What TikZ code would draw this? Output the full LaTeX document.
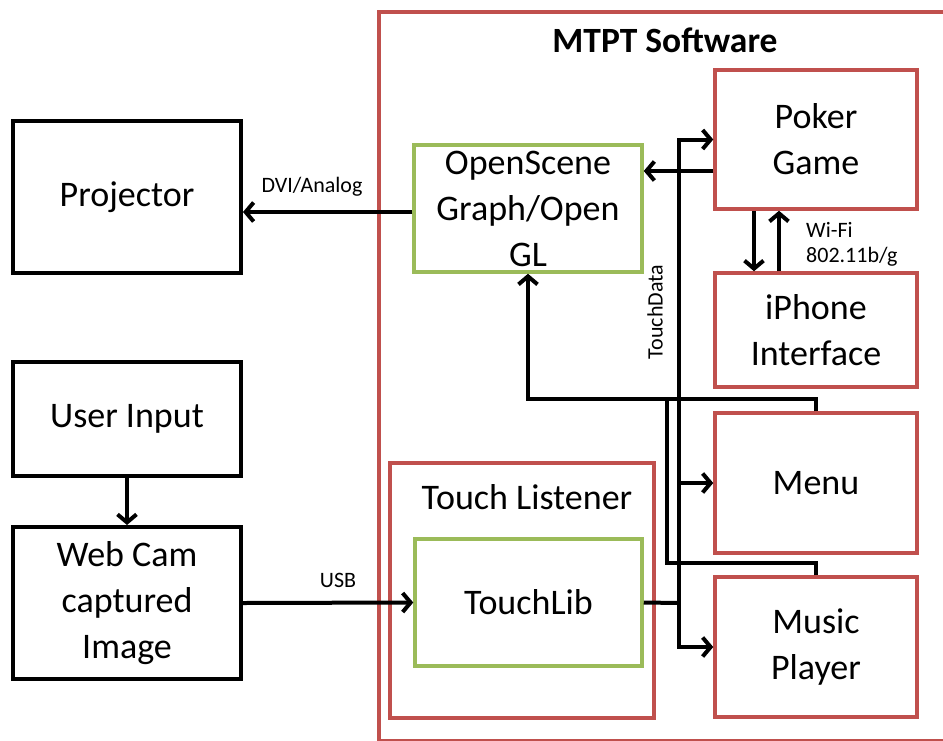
\documentclass[tikz,border=0pt]{standalone}
\usepackage{fontspec}
\setmainfont{Carlito}
\usetikzlibrary{arrows.meta}
\definecolor{boxred}{HTML}{C0504D}
\definecolor{boxgreen}{HTML}{9BBB59}
\begin{document}
\begin{tikzpicture}[x=1pt,y=-1pt,
  every node/.style={inner sep=0pt, align=center},
  big/.style={font=\fontsize{36}{46}\selectfont},
  blk/.style={big, draw=black, line width=4pt},
  redbox/.style={big, draw=boxred, line width=3.5pt},
  grnbox/.style={big, draw=boxgreen, line width=3.5pt},
  conn/.style={line width=4pt, draw=black},
  arr/.style={conn, -{Straight Barb[length=8pt,width=19pt]}},
  lbl/.style={font=\fontsize{22}{25}\selectfont}
]
\useasboundingbox (0,0) rectangle (943,740);
\clip (0,0) rectangle (943,740);

% outer software box
\node (mtpt) [draw=boxred, line width=3.5pt, minimum width=640pt, minimum height=729pt, anchor=north west] at (377,10) {};
\node (title) at (665,40) {\fontsize{35.5}{40}\selectfont\bfseries MTPT Software};

% left column
\node (proj) [blk, minimum width=228pt, minimum height=152pt] at (127,197) {Projector};
\node (user) [blk, minimum width=228pt, minimum height=114pt] at (127,419) {User Input};
\node (cam)  [blk, minimum width=228pt, minimum height=152pt] at (127,603) {Web Cam\\captured\\Image};

% middle
\node (osg) [grnbox, minimum width=228pt, minimum height=127pt] at (528,208.5) {OpenScene\\Graph/Open\\GL};
\node (listener) [draw=boxred, line width=3.5pt, minimum width=264pt, minimum height=255pt] at (522,590.5) {};
\node (lbltitle) [big] at (527,497) {Touch Listener};
\node (tlib) [grnbox, minimum width=227pt, minimum height=127pt] at (528.5,602.5) {TouchLib};

% right column
\node (poker)  [redbox, minimum width=202pt, minimum height=139pt] at (816,139.5) {Poker\\Game};
\node (iphone) [redbox, minimum width=202pt, minimum height=114pt] at (816,330) {iPhone\\Interface};
\node (menu)   [redbox, minimum width=202pt, minimum height=140pt] at (816,483) {Menu};
\node (music)  [redbox, minimum width=202pt, minimum height=140pt] at (816,647) {Music\\Player};

% connectors
\draw[arr] ([yshift=-3.5pt]osg.west) -- ([yshift=-3.5pt]osg.west -| proj.east);
\node (dvi) [lbl] at (312,187) {DVI/Analog};

\draw[arr] (user.south) -- (cam.north);
\draw[arr] (cam.east) -- (tlib.west);
\node (usb) [lbl] at (338,580) {USB};

\draw[arr] ([yshift=-31.5pt]poker.west) -- ([yshift=-31.5pt]poker.west -| osg.east);

\coordinate (bus) at (679,603);
\draw[conn] (tlib.east) -- (bus);
\draw[arr] (bus) |- (poker.west);
\draw[arr] (bus) |- (music.west);
\draw[arr] (menu.west -| bus) -- (menu.west);
\node (touchdata) [lbl, rotate=90] at (655,312) {TouchData};

\coordinate (join) at (667,401);
\draw[arr] (menu.north) -- ++(0,-12) -| (osg.south);
\draw[conn] (music.north) -- ++(0,-12) -| (join);

\draw[arr] (poker.south -| 754,0) -- (iphone.north -| 754,0);
\draw[arr] (iphone.north -| 779,0) -- (poker.south -| 779,0);
\node (wifi) [lbl, align=left, anchor=west] at (806,244.5) {Wi-Fi\\802.11b/g};
\end{tikzpicture}
\end{document}
